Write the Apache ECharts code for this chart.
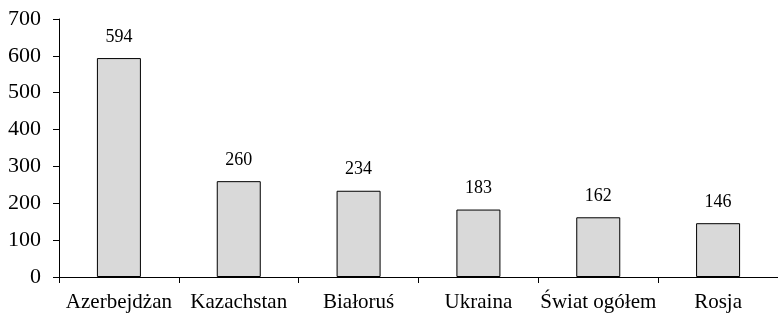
<!DOCTYPE html>
<html>
<head>
<meta charset="utf-8">
<script src="https://cdn.jsdelivr.net/npm/echarts@6/dist/echarts.min.js"></script>
<style>
  html, body { margin: 0; padding: 0; background: #fff; }
  #chart { width: 778px; height: 313px; }
</style>
</head>
<body>
<div id="chart"></div>
<script>
const categories = ['Azerbejdżan', 'Kazachstan', 'Białoruś', 'Ukraina', 'Świat ogółem', 'Rosja'];
const values = [594, 260, 234, 183, 162, 146];
const yTicks = [0, 100, 200, 300, 400, 500, 600, 700];

const font = 'Liberation Serif';

const chart = echarts.init(document.getElementById('chart'));
chart.setOption({
  animation: false,
  grid: { left: 59, right: -3, top: 19, bottom: 36 },
  xAxis: {
    type: 'category',
    data: categories,
    axisLine: { lineStyle: { color: '#000', width: 1 } },
    axisTick: { show: true, length: 6, lineStyle: { color: '#000' } },
    axisLabel: { color: '#000', fontFamily: font, fontSize: 21, margin: 15, interval: 0 }
  },
  yAxis: {
    type: 'value',
    min: yTicks[0],
    max: yTicks[yTicks.length - 1],
    interval: 100,
    splitLine: { show: false },
    axisLine: { show: true, lineStyle: { color: '#000', width: 1 } },
    axisTick: { show: true, length: 6, lineStyle: { color: '#000' } },
    axisLabel: { color: '#000', fontFamily: font, fontSize: 22, margin: 18 }
  },
  series: [{
    type: 'bar',
    data: values,
    barWidth: 44,
    itemStyle: { color: '#d9d9d9', borderColor: '#000', borderWidth: 1 },
    label: {
      show: true,
      position: 'top',
      distance: 12,
      color: '#000',
      fontFamily: font,
      fontSize: 18
    }
  }]
});
</script>
</body>
</html>
